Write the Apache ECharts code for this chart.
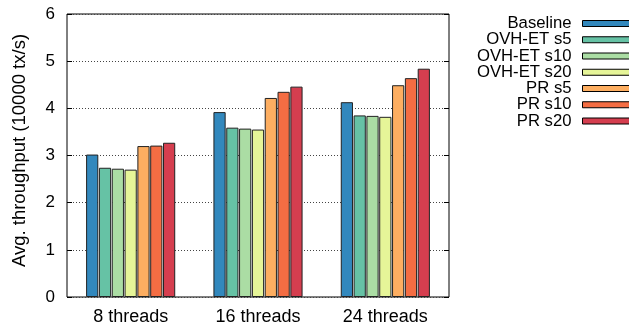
<!DOCTYPE html>
<html>
<head>
<meta charset="utf-8">
<script src="https://cdn.jsdelivr.net/npm/echarts@6/dist/echarts.min.js"></script>
<style>html,body{margin:0;padding:0;background:#fff;}#c{width:629px;height:329px;}</style>
</head>
<body>
<div id="c"></div>
<script>
const categories = ['8 threads', '16 threads', '24 threads'];
const seriesNames = ['Baseline', 'OVH-ET s5', 'OVH-ET s10', 'OVH-ET s20', 'PR s5', 'PR s10', 'PR s20'];
const baseline = [3.02, 3.92, 4.13];
const ovhS5 = [2.74, 3.59, 3.85];
const ovhS10 = [2.72, 3.57, 3.84];
const ovhS20 = [2.70, 3.55, 3.82];
const prS5 = [3.20, 4.22, 4.49];
const prS10 = [3.21, 4.35, 4.64];
const prS20 = [3.27, 4.46, 4.84];
const yTicks = [0, 1, 2, 3, 4, 5, 6];
const colors = ['#3288bd', '#66c2a5', '#abdda4', '#e6f598', '#fdae61', '#f46d43', '#d53e4f'];

const allValues = [baseline, ovhS5, ovhS10, ovhS20, prS5, prS10, prS20];
const font = 'Liberation Sans, Arial, Helvetica, sans-serif';

const chart = echarts.init(document.getElementById('c'), null, {renderer: 'canvas'});
chart.setOption({
  animation: false,
  backgroundColor: '#fff',
  color: colors,
  grid: {left: 67, right: 180, top: 14, bottom: 32, show: true, borderColor: '#000', borderWidth: 1, backgroundColor: 'transparent'},
  legend: {
    orient: 'vertical',
    right: -4,
    top: 15,
    padding: 0,
    align: 'right',
    itemWidth: 50,
    itemHeight: 6,
    itemGap: -0.75,
    icon: 'rect',
    textStyle: {fontFamily: font, fontSize: 16.7, color: '#000', lineHeight: 17, padding: [0, 6, 0, 0]},
    itemStyle: {borderColor: '#000', borderWidth: 1},
    data: seriesNames
  },
  xAxis: {
    type: 'category',
    data: categories,
    axisLine: {show: false},
    axisTick: {show: false},
    axisLabel: {fontFamily: font, fontSize: 18, color: '#000', margin: 11}
  },
  yAxis: [{
    type: 'value',
    min: yTicks[0],
    max: yTicks[yTicks.length - 1],
    interval: 1,
    name: 'Avg. throughput (10000 tx/s)',
    nameLocation: 'middle',
    nameGap: 38,
    nameTextStyle: {fontFamily: font, fontSize: 18.5, color: '#000', padding: [0, 0, 0, 10]},
    axisLine: {show: false},
    axisTick: {show: true, inside: true, length: 5, lineStyle: {color: '#000'}},
    axisLabel: {fontFamily: font, fontSize: 17, color: '#000', margin: 12},
    splitLine: {show: true, lineStyle: {color: '#444', type: [1, 2], width: 1}}
  }, {
    type: 'value',
    position: 'right',
    min: yTicks[0],
    max: yTicks[yTicks.length - 1],
    interval: 1,
    axisLine: {show: false},
    axisTick: {show: true, inside: true, length: 5, lineStyle: {color: '#000'}},
    axisLabel: {show: false},
    splitLine: {show: false}
  }],
  series: seriesNames.map((name, i) => ({
    name: name,
    type: 'bar',
    data: allValues[i],
    barCategoryGap: '30%',
    barGap: '5%',
    itemStyle: {color: colors[i], borderColor: '#222', borderWidth: 1}
  }))
});
</script>
</body>
</html>
